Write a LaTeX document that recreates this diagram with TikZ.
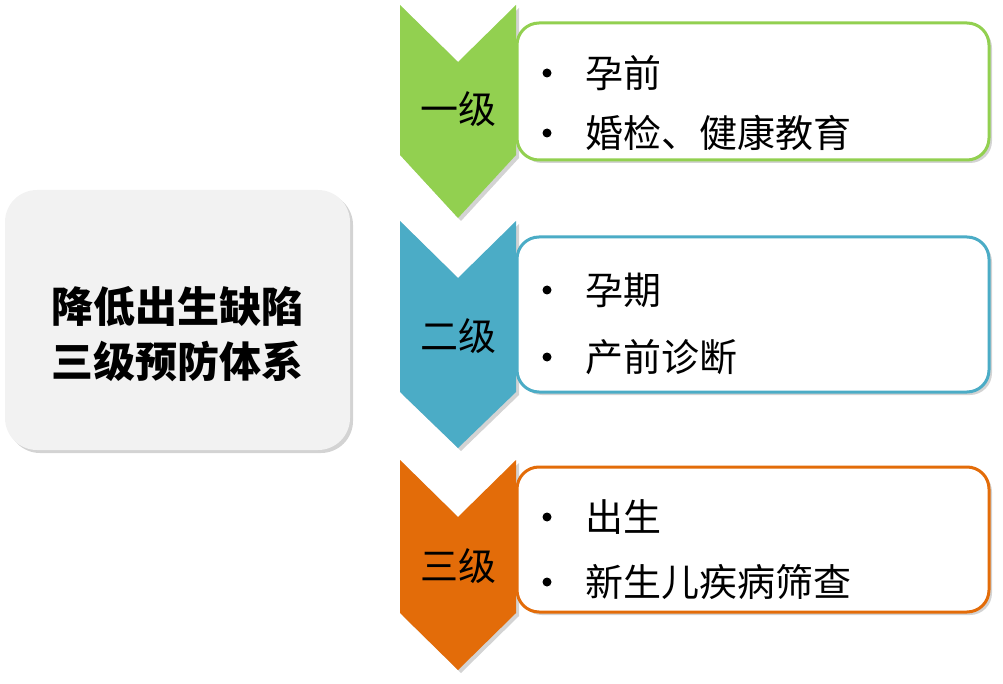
\documentclass[tikz,border=0pt]{standalone}
\usepackage{fontspec}
\setmainfont{Noto Sans CJK SC}
\usetikzlibrary{positioning, shadows}

\definecolor{lvlgreen}{HTML}{92D050}
\definecolor{lvlteal}{HTML}{4BACC6}
\definecolor{lvlorange}{HTML}{E36C09}
\definecolor{panelgray}{HTML}{F2F2F2}

\begin{document}
\begin{tikzpicture}[
                    x=1pt, y=-1pt,
                    softshadow/.style={drop shadow={opacity=0.35, shadow xshift=3pt, shadow yshift=-3pt}},
                    panel/.style={fill=panelgray, rounded corners=32pt, minimum width=345pt, minimum height=260pt, softshadow},
                    goaltext/.style={align=center, font=\fontsize{42}{55}\selectfont\bfseries},
                    lvltext/.style={inner sep=0pt, font=\fontsize{38}{40}\selectfont},
                    infobox/.style={fill=white, line width=3pt, rounded corners=22pt, minimum width=472pt, softshadow},
                    dot/.style={circle, fill=black, inner sep=0pt, minimum size=9pt},
                    item/.style={anchor=west, inner sep=0pt, font=\fontsize{38}{40}\selectfont}
                ]
                \useasboundingbox (0,0) rectangle (1003,684);

                % left panel
                \node[panel] (panel) at (177.5,320) {};
                \node[goaltext] (goal) at (177,334) {降低出生缺陷\\三级预防体系};

                % chevrons
                \foreach \t/\s/\tp/\c/\i/\lab in {5/155/218/lvlgreen/1/一级, 221/392/448/lvlteal/2/二级, 460/613/670/lvlorange/3/三级}{
                        \fill[\c, softshadow] (400,\t) -- (458,{\t+57}) -- (516,\t) -- (516,\s) -- (458,\tp) -- (400,\s) -- cycle;
                        \node[lvltext] (lv\i) at (458,{(\t+57+\s)/2+1}) {\lab};
                    }

                % boxes
                \foreach \cy/\h/\c/\i in {91.5/137/lvlgreen/1, 314.5/155/lvlteal/2, 539.5/145/lvlorange/3}{
                        \node[infobox, draw=\c, minimum height=\h pt] (box\i) at (753,\cy) {};
                    }

                \foreach \y/\txt/\j in {73/孕前/1a, 133/婚检、健康教育/1b, 290/孕期/2a, 357/产前诊断/2b, 517/出生/3a, 582/新生儿疾病筛查/3b}{
                        \node[dot] (d\j) at (547,\y) {};
                        \node[item] (it\j) at (585,\y) {\txt};
                    }
            \end{tikzpicture}
\end{document}
